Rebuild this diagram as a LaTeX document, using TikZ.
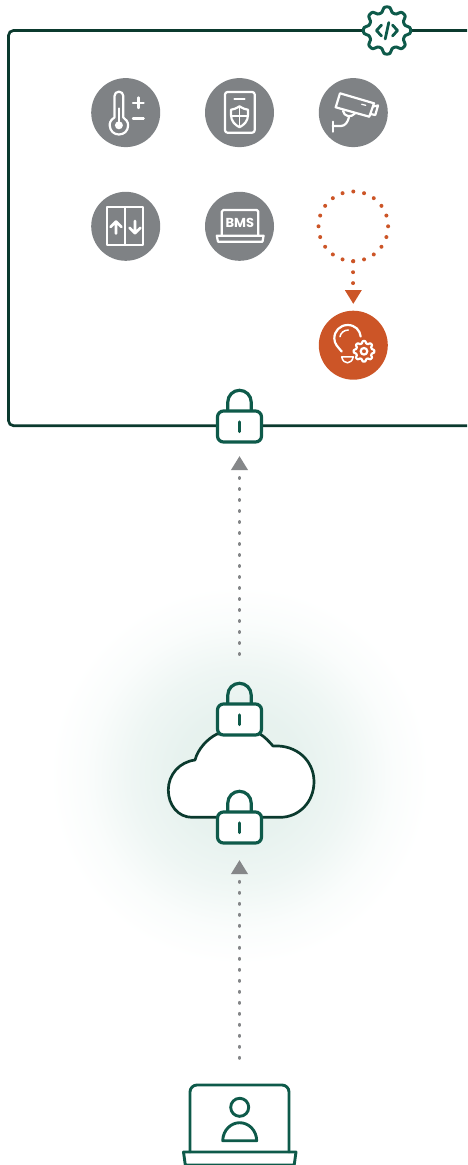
\documentclass[tikz,border=0pt]{standalone}
\usepackage{fontspec}
\newfontfamily\bmsfont{Poppins}
\usetikzlibrary{arrows.meta}
\definecolor{boxdark}{HTML}{0B3A2E}
\definecolor{lockgreen}{HTML}{0E5A4A}
\definecolor{badgegrey}{HTML}{7F8285}
\definecolor{dotgrey}{HTML}{858789}
\definecolor{rust}{HTML}{CC5527}
\pgfdeclareradialshading{softglow}{\pgfpoint{0bp}{0bp}}{rgb(0bp)=(0.9,0.945,0.93); rgb(8bp)=(0.905,0.948,0.935); rgb(14bp)=(0.935,0.965,0.956); rgb(20bp)=(0.98,0.99,0.987); rgb(25bp)=(1,1,1); rgb(50bp)=(1,1,1)}
\tikzset{
  badge/.style={circle,fill=badgegrey,minimum size=69pt,inner sep=0pt,outer sep=0pt},
  badgerust/.style={badge,fill=rust},
  ringspot/.style={circle,minimum size=70pt,inner sep=0pt,outer sep=0pt},
  glyph/.style={draw=white,line width=2.2pt,line cap=round,line join=round},
  lockbody/.style={draw=lockgreen,fill=white,line width=3.2pt,rounded corners=6pt,minimum width=44pt,minimum height=31pt,inner sep=0pt,outer sep=0pt},
  lockline/.style={draw=lockgreen,line width=3.2pt,line cap=round},
  boxline/.style={draw=boxdark,line width=2.7pt},
  laptopspot/.style={minimum width=99pt,minimum height=67pt,inner sep=0pt,outer sep=0pt},
  greylink/.style={draw=dotgrey,line width=3.9pt,line cap=round,dash pattern=on 0.01pt off 10.99pt},
  rustlink/.style={draw=rust,line width=3.9pt,line cap=round,dash pattern=on 0.01pt off 10.89pt},
}
\newcommand{\lockicon}[2]{%
  \draw[lockline] (239.5-11.7,#2) -- (239.5-11.7,#2-9) arc[start angle=180,end angle=0,radius=11.7pt] -- (239.5+11.7,#2);
  \node[lockbody] (#1) at (239.5,#2+15.5) {};
  \draw[lockline] (239.5,#2+11) -- (239.5,#2+20.5);
}
\newcommand{\geargl}[6]{% cx cy radius amplitude stroke fill
  \draw[draw=#5,fill=#6,line width=3pt,line join=round] plot[smooth cycle,samples=96,domain=0:356.25,variable=\a] ({#1+(#3+#4*tanh(1.8*cos(8*\a))/0.947)*cos(\a)},{#2+(#3+#4*tanh(1.8*cos(8*\a))/0.947)*sin(\a)});
}
\begin{document}
\begin{tikzpicture}[x=1pt,y=-1pt]
\useasboundingbox (0,0) rectangle (467,1165);
% glow
\shade[shading=softglow] (239.5,775) circle[radius=190pt];
% main box
\draw[boxline,rounded corners=5pt] (467,30.5) -- (8.5,30.5) -- (8.5,425.7) -- (467,425.7);
% gear
\geargl{387}{30.5}{21}{2.6}{lockgreen}{white}
\node[circle,minimum size=50pt,inner sep=0pt] (codegear) at (387,30.5) {};
\draw[lockline,line width=2.8pt,line join=round] (381.5,25) -- (376.5,30.5) -- (381.5,36);
\draw[lockline,line width=2.8pt,line join=round] (392.5,25) -- (397.5,30.5) -- (392.5,36);
\draw[lockline,line width=2.8pt] (388.8,22.5) -- (385.2,39);
% badges
\node[badge] (thermo) at (125.7,112.6) {};
\node[badge] (phone) at (239.5,112.6) {};
\node[badge] (camera) at (353.3,112.6) {};
\node[badge] (lift) at (125.7,226.3) {};
\node[badge] (bms) at (239.5,226.3) {};
\node[ringspot] (ring) at (353.3,226.3) {};
\node[badgerust] (lamp) at (353.3,345.2) {};
% thermometer
\draw[glyph] (114.5,117.5) -- (114.5,96) arc[start angle=180,end angle=0,radius=4.4pt] -- (123.3,117.5) .. controls (126,119) and (128.2,122) .. (128.1,125.5) .. controls (128,131) and (124,134.5) .. (118.9,134.5) .. controls (114,134.5) and (110,131) .. (109.7,125.5) .. controls (109.5,124) and (110,120) .. (114.5,117.5) -- cycle;
\fill[white] (118.9,125.3) circle[radius=4pt];
\draw[glyph] (118.9,125) -- (118.9,108.5);
\draw[glyph,line width=2.4pt] (138.3,97.5) -- (138.3,108) (133,102.7) -- (143.6,102.7);
\draw[glyph,line width=2.4pt] (133,118.3) -- (143.6,118.3);
% phone with shield
\draw[glyph,rounded corners=2.5pt] (225,92) rectangle (254.7,132.7);
\draw[glyph] (234.5,99.3) -- (244.5,99.3);
\draw[glyph] (239.5,106.3) .. controls (236,108.5) and (233.5,109.5) .. (231,109.7) -- (231,115) .. controls (231,121) and (235,125) .. (239.5,127.2) .. controls (244,125) and (248,121) .. (248,115) -- (248,109.7) .. controls (245.5,109.5) and (243,108.5) .. (239.5,106.3) -- cycle;
\draw[glyph,line width=1.5pt] (239.5,106.3) -- (239.5,127.2) (231,116) -- (248,116);
% camera
\draw[glyph] (340,93.3) -- (374,103.3) -- (369.3,116.7) -- (335.7,107.3) -- cycle;
\draw[glyph] (373,106.5) -- (378,105.5) -- (375.3,115) -- (370.5,114);
\draw[glyph,line width=1.3pt] (361.7,104.3) -- (365.7,105.3);
\draw[glyph] (343,111) .. controls (344,116.5) and (351,118) .. (355,113.5);
\draw[glyph] (332.7,121.7) -- (332.7,131.7);
\draw[glyph] (332.7,126) -- (341,126) .. controls (345,126) and (348,122) .. (349,117);
% lift
\draw[glyph] (106.7,207.3) rectangle (143.3,245);
\draw[glyph] (125,207.3) -- (125,245);
\draw[glyph,line width=2.6pt] (116,233.5) -- (116,221.5) (110.5,227) -- (116,221.5) -- (121.5,227);
\draw[glyph,line width=2.6pt] (135,221) -- (135,233.3) (129.5,227.8) -- (135,233.3) -- (140.5,227.8);
% BMS laptop
\draw[glyph,rounded corners=1.5pt] (221.8,235.7) -- (221.8,210) -- (258.3,210) -- (258.3,235.7);
\draw[glyph] (216.8,235.7) -- (263.6,235.7) -- (262.5,241.7) -- (218,241.7) -- cycle;
\node[text=white,inner sep=0pt,font=\bmsfont\bfseries\fontsize{13pt}{14pt}\selectfont] (bmstext) at (239.9,223.3) {BMS};
% dotted ring
\foreach \k in {0,...,19}{
  \fill[rust] ({353.3+34.8*cos(18*\k)},{226.3+34.8*sin(18*\k)}) circle[radius=2pt];
}
\draw[rustlink,-{Triangle[length=14pt,width=16pt,fill=rust,sep=6pt]},shorten >=0.7pt] (ring.south) -- (lamp.north);
% lamp
\draw[glyph] (341.7,351.5) .. controls (338,347) and (334.3,344) .. (334.3,338.3) .. controls (334.3,331) and (340,325) .. (347.7,325) .. controls (355,325) and (360,330) .. (360.7,336.5);
\draw[glyph,line width=1.5pt] (340,336.7) .. controls (340.5,333) and (344,330) .. (348.3,330);
\draw[glyph,line width=1.5pt] (341.7,356.8) -- (353.3,356.8) .. controls (352.5,361) and (349.5,362.8) .. (347.5,362.8) .. controls (345,362.8) and (342.5,361) .. (341.7,356.8) -- cycle;
\draw[draw=white,fill=rust,line width=2.2pt,line join=round] plot[smooth cycle,samples=96,domain=0:356.25,variable=\a] ({364+(9.2+1.1*tanh(1.8*cos(8*\a))/0.947)*cos(\a)},{351.3+(9.2+1.1*tanh(1.8*cos(8*\a))/0.947)*sin(\a)});
\draw[glyph] (364,351.3) circle[radius=3.3pt];
% cloud
\draw[draw=boxdark,fill=white,line width=2.7pt,line join=round] (217,734) .. controls (207,739) and (198,749) .. (195,760) .. controls (179,762) and (168.3,775) .. (168.3,790) .. controls (168.3,805) and (178,817.3) .. (192,817.3) -- (280,817.3) .. controls (299,817.3) and (314,802) .. (314,781.7) .. controls (314,761) and (297,744.5) .. (273,746) .. controls (269,741.5) and (265,737) .. (260,734) -- cycle;
% locks
\lockicon{boxlock}{411}
\lockicon{cloudlockt}{704}
\lockicon{cloudlockb}{812}
% laptop
\node[laptopspot] (laptop) at (239.5,1118.4) {};
\draw[lockline,line width=2.9pt,rounded corners=7pt] (190,1152) -- (190,1085) -- (289,1085) -- (289,1152);
\draw[lockline,line width=2.9pt,line join=round] (183.5,1152) -- (296,1152) -- (294.2,1165) -- (185.3,1165) -- cycle;
\draw[lockline,line width=2.9pt] (239.7,1107.3) circle[radius=9pt];
\draw[lockline,line width=2.9pt,line join=round] (222.7,1140.7) .. controls (223,1130) and (231,1122.7) .. (239.7,1122.7) .. controls (248.5,1122.7) and (256.5,1130) .. (256.7,1140.7) -- cycle;
% connectors
\draw[greylink,-{Triangle[length=14pt,width=16pt,fill=dotgrey,sep=7.5pt]},shorten <=50pt,shorten >=6.5pt] (cloudlockt.north) -- (boxlock.south);
\draw[greylink,-{Triangle[length=14pt,width=16pt,fill=dotgrey,sep=7.5pt]},shorten <=27pt,shorten >=9.5pt] (laptop.north) -- (cloudlockb.south);
\end{tikzpicture}
\end{document}
